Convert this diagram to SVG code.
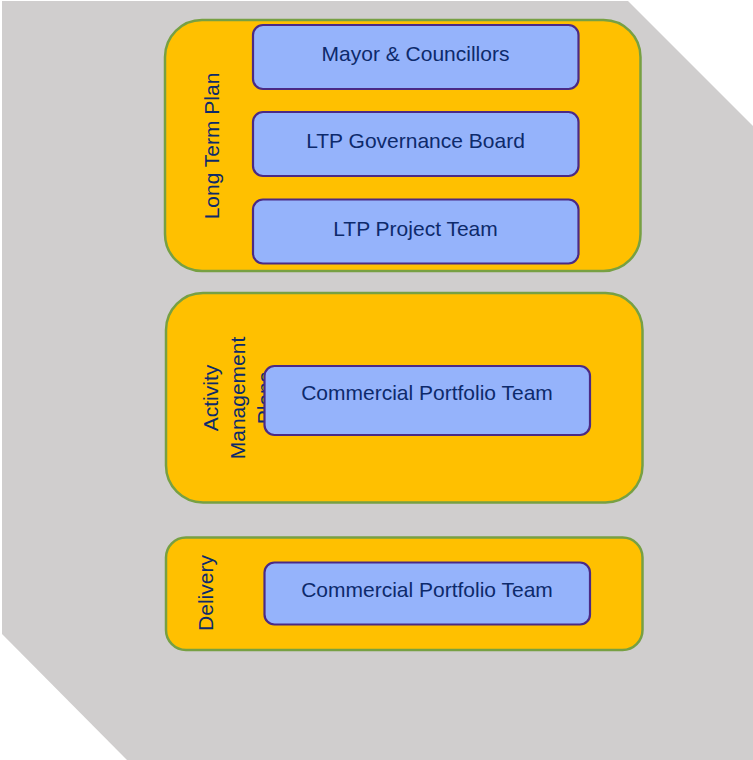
<svg xmlns="http://www.w3.org/2000/svg" width="753" height="760" viewBox="0 0 753 760">
<style>
.grp{fill:#ffc000;stroke:#77a043;stroke-width:2.5}
.box{fill:#95b3fb;stroke:#4b2a85;stroke-width:2.2}
.t{font-family:"Liberation Sans",Arial,sans-serif;font-size:21px;fill:#0d2a6b;text-anchor:middle}
</style>
<polygon points="2,1 628,1 753,126 753,760 127,760 2,634" fill="#d0cece"/>
<g id="long-term-plan">
<rect class="grp" x="165" y="20" width="475.5" height="251" rx="37"/>
<text class="t" transform="translate(219,146) rotate(-90)">Long Term Plan</text>
</g>
<g id="mayor">
<rect class="box" x="253" y="25" width="325.5" height="64" rx="10"/>
<text class="t" x="415.5" y="61">Mayor &amp; Councillors</text>
</g>
<g id="ltp-board">
<rect class="box" x="253" y="112" width="325.5" height="64" rx="10"/>
<text class="t" x="415.5" y="148">LTP Governance Board</text>
</g>
<g id="ltp-team">
<rect class="box" x="253" y="199.5" width="325.5" height="64" rx="10"/>
<text class="t" x="415.5" y="235.5">LTP Project Team</text>
</g>
<g id="activity-management-plans">
<rect class="grp" x="166" y="293" width="476.5" height="209.5" rx="37"/>
<text class="t" transform="translate(217.5,398) rotate(-90)">Activity</text>
<text class="t" transform="translate(245,398) rotate(-90)">Management</text>
<text class="t" transform="translate(272,398) rotate(-90)">Plans</text>
</g>
<g id="amp-team">
<rect class="box" x="264.5" y="366" width="325.5" height="69" rx="10"/>
<text class="t" x="427" y="400">Commercial Portfolio Team</text>
</g>
<g id="delivery">
<rect class="grp" x="166" y="537.5" width="476.5" height="112.5" rx="20"/>
<text class="t" transform="translate(213,593) rotate(-90)">Delivery</text>
</g>
<g id="delivery-team">
<rect class="box" x="264.5" y="562.5" width="325.5" height="62" rx="10"/>
<text class="t" x="427" y="597">Commercial Portfolio Team</text>
</g>
<g id="connectors"></g>
</svg>
